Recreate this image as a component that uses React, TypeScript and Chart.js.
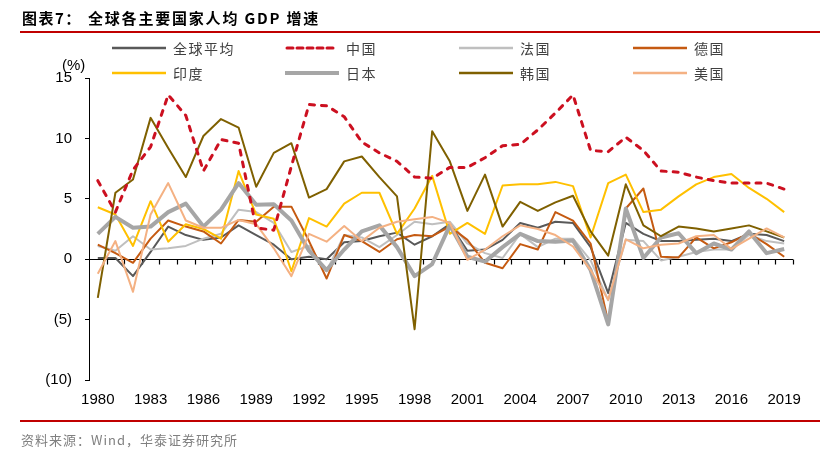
import React, { useEffect, useRef } from 'react';
import { Chart, registerables } from 'chart.js';

Chart.register(...registerables);

const years = [
  '1980', '1981', '1982', '1983', '1984', '1985', '1986', '1987', '1988', '1989',
  '1990', '1991', '1992', '1993', '1994', '1995', '1996', '1997', '1998', '1999',
  '2000', '2001', '2002', '2003', '2004', '2005', '2006', '2007', '2008', '2009',
  '2010', '2011', '2012', '2013', '2014', '2015', '2016', '2017', '2018', '2019',
];

const world = [0.1, 0.1, -1.4, 0.6, 2.7, 2.0, 1.6, 1.8, 2.8, 2.0, 1.2, 0.0, 0.2, 0.0, 1.4, 1.5, 1.9, 2.2, 1.2, 1.9, 2.9, 0.7, 0.8, 1.6, 3.0, 2.6, 3.1, 3.0, 1.0, -2.8, 3.0, 2.1, 1.5, 1.5, 1.6, 1.7, 1.5, 2.1, 2.0, 1.5];
const china = [6.5, 3.9, 7.4, 9.3, 13.6, 11.9, 7.3, 9.9, 9.6, 2.6, 2.4, 7.7, 12.8, 12.7, 11.8, 9.7, 8.8, 8.1, 6.8, 6.7, 7.6, 7.6, 8.4, 9.4, 9.5, 10.7, 12.1, 13.6, 9.0, 8.9, 10.1, 9.0, 7.3, 7.2, 6.8, 6.5, 6.3, 6.3, 6.3, 5.8];
const france = [1.1, 0.7, 1.9, 0.8, 0.9, 1.1, 1.7, 2.1, 4.1, 3.9, 3.0, 0.6, 1.1, -1.0, 2.0, 1.8, 1.0, 2.0, 3.1, 2.9, 3.1, 1.3, 0.5, 0.1, 2.1, 1.0, 1.7, 1.7, -0.1, -3.4, 1.6, 1.5, -0.1, 0.2, 0.6, 0.8, 0.8, 2.0, 1.5, 1.3];
const germany = [1.2, 0.5, -0.3, 1.7, 3.2, 2.7, 2.3, 1.3, 3.25, 3.1, 4.35, 4.35, 1.5, -1.6, 2.0, 1.5, 0.6, 1.65, 2.0, 1.9, 2.7, 1.6, -0.3, -0.75, 1.25, 0.8, 3.9, 3.2, 1.3, -5.2, 4.2, 5.85, 0.2, 0.15, 1.8, 0.9, 1.4, 2.15, 1.25, 0.2];
const india = [4.3, 3.7, 1.1, 4.8, 1.45, 2.9, 2.5, 1.7, 7.3, 3.7, 3.35, -1.0, 3.4, 2.7, 4.6, 5.5, 5.5, 2.1, 4.2, 6.9, 2.1, 3.0, 2.1, 6.1, 6.2, 6.2, 6.4, 6.05, 1.8, 6.3, 7.0, 3.9, 4.1, 5.2, 6.2, 6.8, 7.05, 5.9, 5.0, 3.9];
const japan = [2.1, 3.5, 2.6, 2.7, 3.9, 4.6, 2.7, 4.1, 6.3, 4.5, 4.55, 3.2, 0.7, -0.9, 0.8, 2.3, 2.8, 1.0, -1.4, -0.4, 2.8, 0.2, -0.2, 1.0, 2.1, 1.5, 1.45, 1.55, -0.9, -5.4, 4.2, 0.1, 1.8, 2.15, 0.5, 1.3, 0.8, 2.3, 0.5, 0.85];
const korea = [-3.2, 5.5, 6.6, 11.7, 9.2, 6.8, 10.2, 11.6, 10.9, 6.0, 8.8, 9.6, 5.1, 5.8, 8.1, 8.5, 6.8, 5.2, -5.8, 10.6, 8.1, 4.0, 7.0, 2.7, 4.75, 4.0, 4.7, 5.25, 2.3, 0.3, 6.2, 2.8, 1.9, 2.7, 2.55, 2.3, 2.55, 2.8, 2.3, 1.8];
const usa = [-1.2, 1.5, -2.7, 3.7, 6.3, 3.2, 2.6, 2.6, 3.25, 2.9, 0.9, -1.4, 2.1, 1.45, 2.75, 1.5, 2.6, 3.1, 3.3, 3.5, 3.0, -0.05, 0.8, 1.9, 2.8, 2.5, 2.0, 1.05, -0.9, -3.35, 1.65, 0.9, 1.2, 1.3, 1.9, 2.0, 0.85, 1.7, 2.55, 1.8];

const seriesNames = ['全球平均', '中国', '法国', '德国', '印度', '日本', '韩国', '美国'];
const seriesData = [world, china, france, germany, india, japan, korea, usa];
const seriesColors = ['#595959', '#cc1020', '#bfbfbf', '#c55a11', '#ffc000', '#a6a6a6', '#7f6000', '#f4b183'];
const seriesWidths = [2, 3, 2, 2, 2, 4, 2, 2];
const seriesDash: number[][] = [[], [5, 7], [], [], [], [], [], []];
const seriesOrder = [7, -1, 5, 4, 3, 2, 1, 0];

const yTicks = [-10, -5, 0, 5, 10, 15];

const tickFont = { family: '"Liberation Sans", Arial, sans-serif', size: 15 };

const zeroAxisPlugin = {
  id: 'zeroAxis',
  beforeDatasetsDraw(chart: any) {
    const { ctx, chartArea, scales } = chart;
    const y0 = Math.round(scales.y.getPixelForValue(0)) + 0.5;
    const n = chart.data.labels.length;
    ctx.save();
    ctx.strokeStyle = '#000';
    ctx.lineWidth = 1.2;
    ctx.beginPath();
    ctx.moveTo(chartArea.left, y0);
    ctx.lineTo(chartArea.right, y0);
    for (let i = 1; i <= n; i++) {
      const xa = scales.x.getPixelForValue(i - 1);
      const xb = i < n ? scales.x.getPixelForValue(i) : chartArea.right + (chartArea.right - xa);
      const x = Math.round((xa + xb) / 2) + 0.5;
      ctx.moveTo(x, y0);
      ctx.lineTo(x, y0 + 5);
    }
    ctx.stroke();
    ctx.restore();
  },
};

function LegendSwatch({ color, width, dash }: { color: string; width: number; dash: number[] }) {
  return (
    <svg width={54} height={8} style={{ display: 'block' }}>
      <line
        x1={dash.length ? 2 : 0}
        y1={4}
        x2={dash.length ? 52 : 54}
        y2={4}
        stroke={color}
        strokeWidth={width}
        strokeDasharray={dash.length ? dash.join(' ') : undefined}
        strokeLinecap={dash.length ? 'round' : 'butt'}
      />
    </svg>
  );
}

export default function App() {
  const canvasRef = useRef<HTMLCanvasElement | null>(null);

  useEffect(() => {
    if (!canvasRef.current) return;
    const chart = new Chart(canvasRef.current, {
      type: 'line',
      data: {
        labels: years,
        datasets: seriesNames.map((name, i) => ({
          label: name,
          data: seriesData[i],
          borderColor: seriesColors[i],
          backgroundColor: seriesColors[i],
          borderWidth: seriesWidths[i],
          borderDash: seriesDash[i],
          borderCapStyle: seriesDash[i].length ? 'round' : 'butt',
          borderJoinStyle: 'round',
          pointRadius: 0,
          tension: 0,
          fill: false,
          order: seriesOrder[i],
        })),
      },
      options: {
        responsive: false,
        animation: false,
        events: [],
        layout: { padding: { left: 0, right: 45, top: 78, bottom: 49 } },
        plugins: { legend: { display: false }, tooltip: { enabled: false }, title: { display: false } },
        scales: {
          x: {
            type: 'category',
            offset: true,
            grid: { display: false, drawTicks: false },
            border: { display: false },
            ticks: {
              autoSkip: false,
              maxRotation: 0,
              minRotation: 0,
              padding: 11,
              color: '#000',
              font: tickFont,
              callback: (_v: any, i: number) => (i % 3 === 0 ? years[i] : ''),
            },
            afterFit: (s: any) => {
              s.height = 30;
            },
          },
          y: {
            min: -10,
            max: 15,
            afterBuildTicks: (s: any) => {
              s.ticks = yTicks.map((v) => ({ value: v }));
            },
            ticks: {
              padding: 13,
              color: '#000',
              font: tickFont,
              callback: (v: any) => (Number(v) < 0 ? `(${-Number(v)})` : `${v}`),
            },
            grid: { display: true, drawOnChartArea: false, drawTicks: true, tickLength: 4, color: '#000', lineWidth: 1 },
            border: { display: true, color: '#000', width: 1 },
            afterFit: (s: any) => {
              s.width = 89;
            },
          },
        },
      } as any,
      plugins: [zeroAxisPlugin],
    });
    return () => chart.destroy();
  }, []);

  const legendCols = [112, 285, 459, 633];
  const legendRows = [48, 72.5];
  const cjk = '"Noto Sans CJK SC", "Noto Sans", sans-serif';

  return (
    <div style={{ position: 'fixed', left: 0, top: 0, width: 838, height: 459, background: '#fff', overflow: 'hidden' }}>
      <canvas ref={canvasRef} width={838} height={459} style={{ position: 'absolute', left: 0, top: 0, width: 838, height: 459 }} />
      <div style={{ position: 'absolute', left: 22, top: 7, fontFamily: cjk, fontWeight: 700, fontSize: 15, lineHeight: '22px', letterSpacing: 1.5, color: '#000', whiteSpace: 'nowrap' }}>
        图表7：
      </div>
      <div style={{ position: 'absolute', left: 88, top: 7, fontFamily: cjk, fontWeight: 700, fontSize: 15, lineHeight: '22px', letterSpacing: 1.8, color: '#000', whiteSpace: 'nowrap' }}>
        全球各主要国家人均 GDP 增速
      </div>
      <div style={{ position: 'absolute', left: 20, top: 31, width: 800, height: 1.5, background: '#c00000' }} />
      {seriesNames.map((name, i) => {
        const col = i % 4;
        const row = Math.floor(i / 4);
        const cy = legendRows[row];
        return (
          <React.Fragment key={name}>
            <div style={{ position: 'absolute', left: legendCols[col], top: cy - 4 }}>
              <LegendSwatch color={seriesColors[i]} width={i === 1 ? 3 : i === 5 ? 4 : 2.5} dash={seriesDash[i].length ? [6, 4] : []} />
            </div>
            <div style={{ position: 'absolute', left: legendCols[col] + 61, top: cy - 10, fontFamily: cjk, fontSize: 14, lineHeight: '20px', letterSpacing: 1.5, color: '#404040', whiteSpace: 'nowrap' }}>
              {name}
            </div>
          </React.Fragment>
        );
      })}
      <div style={{ position: 'absolute', left: 62, top: 56, fontFamily: '"Liberation Sans", Arial, sans-serif', fontSize: 15, lineHeight: '18px', color: '#000' }}>
        (%)
      </div>
      <div style={{ position: 'absolute', left: 20, top: 420, width: 800, height: 1.5, background: '#c00000' }} />
      <div style={{ position: 'absolute', left: 21, top: 430, fontFamily: cjk, fontSize: 13, lineHeight: '20px', letterSpacing: 1, color: '#808080', whiteSpace: 'nowrap' }}>
        资料来源：Wind，华泰证券研究所
      </div>
    </div>
  );
}
